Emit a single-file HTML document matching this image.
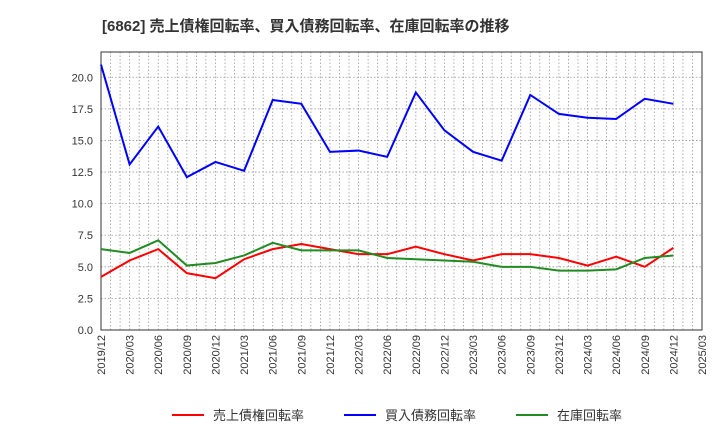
<!DOCTYPE html>
<html><head><meta charset="utf-8"><style>
body{margin:0;background:#fff;width:720px;height:440px;overflow:hidden;font-family:"Liberation Sans","Noto Sans CJK JP",sans-serif}
</style></head><body>
<svg id="c" width="720" height="440" xmlns="http://www.w3.org/2000/svg">
<text x="102" y="31" font-size="15" font-weight="bold" fill="#333">[6862]  売上債権回転率、買入債務回転率、在庫回転率の推移</text>
</svg>
<script>
const categories=["2019/12","2020/03","2020/06","2020/09","2020/12","2021/03","2021/06","2021/09","2021/12","2022/03","2022/06","2022/09","2022/12","2023/03","2023/06","2023/09","2023/12","2024/03","2024/06","2024/09","2024/12"];
const xTickLabels=["2019/12","2020/03","2020/06","2020/09","2020/12","2021/03","2021/06","2021/09","2021/12","2022/03","2022/06","2022/09","2022/12","2023/03","2023/06","2023/09","2023/12","2024/03","2024/06","2024/09","2024/12","2025/03"];
const yTicks=[0,2.5,5,7.5,10,12.5,15,17.5,20];
const receivables=[4.2,5.5,6.4,4.5,4.1,5.6,6.4,6.8,6.4,6.0,6.0,6.6,6.0,5.5,6.0,6.0,5.7,5.1,5.8,5.0,6.5];
const payables=[21.0,13.1,16.1,12.1,13.3,12.6,18.2,17.9,14.1,14.2,13.7,18.8,15.8,14.1,13.4,18.6,17.1,16.8,16.7,18.3,17.9];
const inventory=[6.4,6.1,7.1,5.1,5.3,5.9,6.9,6.3,6.3,6.3,5.7,5.6,5.5,5.4,5.0,5.0,4.7,4.7,4.8,5.7,5.9];
const svg=document.getElementById('c');const NS="http://www.w3.org/2000/svg";
const L=101,R=702,T=52,B=330,yMax=22;
const xq=i=>L+i*(R-L)/(xTickLabels.length-1);
const y=v=>B-v*(B-T)/yMax;
function mk(t,a,p){const e=document.createElementNS(NS,t);for(const k in a)e.setAttribute(k,a[k]);(p||svg).appendChild(e);return e;}
const g=mk('g',{});


for(let m=0;m<=63;m++){const x=L+m*(R-L)/63;mk('line',{x1:x,x2:x,y1:T,y2:B,stroke:'#999','stroke-dasharray':'1.5,2','stroke-width':0.8},g);}
yTicks.forEach(v=>{mk('line',{x1:L,x2:R,y1:y(v),y2:y(v),stroke:'#999','stroke-dasharray':'1.5,2','stroke-width':0.8},g);
const t=mk('text',{x:L-8,y:y(v)+4,'font-size':11,'text-anchor':'end',fill:'#333'});t.textContent=v.toFixed(1);

});
const fr=mk('rect',{x:L,y:T,width:R-L,height:B-T,fill:'none',stroke:'#333'});


xTickLabels.forEach((s,i)=>{const x=xq(i);const t=mk('text',{x:x+4,y:B+5,'font-size':11,'text-anchor':'end',fill:'#333',transform:`rotate(-90 ${x+4} ${B+5})`});t.textContent=s;

});
function series(d,c,n){const p=mk('polyline',{points:d.map((v,i)=>xq(i)+','+y(v)).join(' '),fill:'none',stroke:c,'stroke-width':2});

}
series(receivables,'#ff0000','receivables-turnover-line');
series(payables,'#0000ff','payables-turnover-line');
series(inventory,'#228b22','inventory-turnover-line');
const leg=[['売上債権回転率','#ff0000',172],['買入債務回転率','#0000ff',344],['在庫回転率','#228b22',516]];
leg.forEach(([s,c,x])=>{const lg=mk('g',{});


mk('line',{x1:x,x2:x+32,y1:415,y2:415,stroke:c,'stroke-width':2},lg);
const t=mk('text',{x:x+41,y:420,'font-size':13,fill:'#333'},lg);t.textContent=s;});
</script>
</body></html>
